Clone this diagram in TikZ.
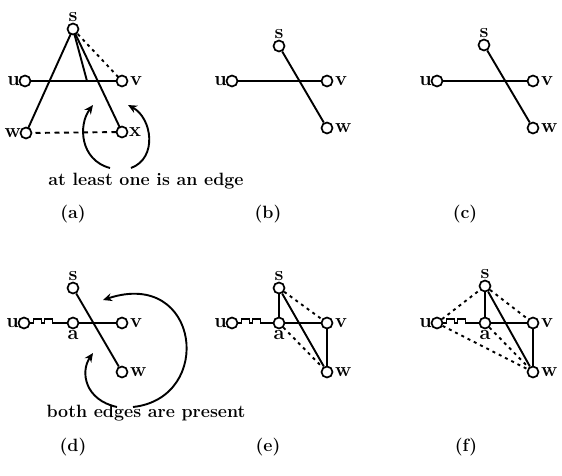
\documentclass[tikz,border=0pt]{standalone}
\usetikzlibrary{arrows.meta,positioning}
\begin{document}
\begin{tikzpicture}[x=1pt,y=-1pt,
  vtx/.style={circle,draw,line width=1.7pt,minimum size=11pt,inner sep=0pt,fill=white},
  lab/.style={font=\fontsize{20}{22}\selectfont\bfseries,inner sep=0.5pt},
  sline/.style={line width=1.9pt},
  dotline/.style={line width=1.9pt,dash pattern=on 3pt off 4pt},
  dashline/.style={line width=1.9pt,dash pattern=on 5pt off 4.5pt},
  wavy/.style={line width=1.4pt},
  curvarrow/.style={line width=1.9pt,-{Stealth[length=9pt,width=8pt]}},
  captext/.style={font=\fontsize{17.8}{21}\selectfont\bfseries,inner sep=0pt}]
\useasboundingbox (0,0) rectangle (562,475);
% ---------- (a)
\coordinate (ap) at (87,81);
\draw[sline] (25,81) coordinate (au0) -- (122,81) coordinate (av0);
\draw[sline] (73,29) coordinate (as0) -- (26,133) coordinate (aw0);
\draw[sline] (as0) -- (ap);
\draw[sline] (as0) -- (122,132) coordinate (ax0);
\draw[dotline] (as0) -- (av0);
\draw[dashline] (aw0) -- (ax0);
\node[vtx] (as) at (as0) {};
\node[vtx] (au) at (au0) {};
\node[vtx] (av) at (av0) {};
\node[vtx] (aw) at (aw0) {};
\node[vtx] (ax) at (ax0) {};
\node[lab,above=0pt of as] (asl) {s};
\node[lab,left=-2pt of au] (aul) {u};
\node[lab,right=1pt of av] (avl) {v};
\node[lab,left=-2pt of aw] (awl) {w};
\node[lab,right=0pt of ax] (axl) {x};
\coordinate (aL0) at (110,168);
\coordinate (aL1) at (93,105);
\coordinate (aR0) at (131,168);
\coordinate (aR1) at (128,105);
\draw[curvarrow] (aL0) .. controls (80,160) and (78,125) .. (aL1);
\draw[curvarrow] (aR0) .. controls (158,158) and (152,118) .. (aR1);
\node[captext] (acap) at (146,181) {at least one is an edge};
\node[captext] (alab) at (73,214) {(a)};
% ---------- (b)
\node[vtx] (bs) at (279,46) {};
\node[vtx] (bu) at (232,81) {};
\node[vtx] (bv) at (327,81) {};
\node[vtx] (bw) at (327,128) {};
\draw[sline] (bu) -- (bv);
\draw[sline] (bs) -- (bw);
\node[lab,above=0pt of bs] (bsl) {s};
\node[lab,left=-2pt of bu] (bul) {u};
\node[lab,right=1pt of bv] (bvl) {v};
\node[lab,right=1pt of bw] (bwl) {w};
\node[captext] (blab) at (268,214) {(b)};
% ---------- (c)
\node[vtx] (cs) at (484,45) {};
\node[vtx] (cu) at (437,81) {};
\node[vtx] (cv) at (533,81) {};
\node[vtx] (cw) at (533,128) {};
\draw[sline] (cu) -- (cv);
\draw[sline] (cs) -- (cw);
\node[lab,above=0pt of cs] (csl) {s};
\node[lab,left=-2pt of cu] (cul) {u};
\node[lab,right=1pt of cv] (cvl) {v};
\node[lab,right=1pt of cw] (cwl) {w};
\node[captext] (clab) at (465,214) {(c)};
% ---------- (d)
\node[vtx] (ds) at (73,288) {};
\node[vtx] (du) at (24,323) {};
\node[vtx] (da) at (73,323) {};
\node[vtx] (dv) at (122,323) {};
\node[vtx] (dw) at (122,372) {};
\draw[sline] (da) -- (dv);
\draw[sline] (ds) -- (dw);
\draw[wavy] (du.east) -- ++(3,0) -- ++(0,-4) -- ++(8,0) -- ++(0,4) -- ++(3,0) -- ++(0,-4) -- ++(8,0) -- ++(0,4) -- (da.west);
\node[lab,above=0pt of ds] (dsl) {s};
\node[lab,left=-2pt of du] (dul) {u};
\node[lab,below=0pt of da] (dal) {a};
\node[lab,right=1pt of dv] (dvl) {v};
\node[lab,right=1pt of dw] (dwl) {w};
\coordinate (dB0) at (133,407);
\coordinate (dB1) at (103,300);
\coordinate (dS0) at (117,407);
\coordinate (dS1) at (93,353);
\draw[curvarrow] (dB0) .. controls (215,398) and (200,268) .. (dB1);
\draw[curvarrow] (dS0) .. controls (85,400) and (80,372) .. (dS1);
\node[captext] (dcap) at (146,413) {both edges are present};
\node[captext] (dlab) at (73,447) {(d)};
% ---------- (e)
\node[vtx] (es) at (279,288) {};
\node[vtx] (eu) at (232,323) {};
\node[vtx] (ea) at (279,323) {};
\node[vtx] (ev) at (327,323) {};
\node[vtx] (ew) at (327,372) {};
\draw[sline] (es) -- (ea);
\draw[sline] (es) -- (ew);
\draw[sline] (ea) -- (ev);
\draw[sline] (ev) -- (ew);
\draw[dotline] (es) -- (ev);
\draw[dotline] (ea) -- (ew);
\draw[wavy] (eu.east) -- ++(3,0) -- ++(0,-4) -- ++(8,0) -- ++(0,4) -- ++(3,0) -- ++(0,-4) -- ++(8,0) -- ++(0,4) -- (ea.west);
\node[lab,above=0pt of es] (esl) {s};
\node[lab,left=-2pt of eu] (eul) {u};
\node[lab,below=0pt of ea] (eal) {a};
\node[lab,right=1pt of ev] (evl) {v};
\node[lab,right=1pt of ew] (ewl) {w};
\node[captext] (elab) at (268,447) {(e)};
% ---------- (f)
\node[vtx] (fs) at (485,286) {};
\node[vtx] (fu) at (437,323) {};
\node[vtx] (fa) at (485,323) {};
\node[vtx] (fv) at (533,323) {};
\node[vtx] (fw) at (533,372) {};
\draw[sline] (fs) -- (fa);
\draw[sline] (fs) -- (fw);
\draw[sline] (fa) -- (fv);
\draw[sline] (fv) -- (fw);
\draw[dotline] (fu) -- (fs);
\draw[dotline] (fs) -- (fv);
\draw[dotline] (fu) -- (fw);
\draw[dotline] (fa) -- (fw);
\draw[wavy] (fu.east) -- ++(3,0) -- ++(0,-4) -- ++(8,0) -- ++(0,4) -- ++(3,0) -- ++(0,-4) -- ++(8,0) -- ++(0,4) -- (fa.west);
\node[lab,above=0pt of fs] (fsl) {s};
\node[lab,left=-2pt of fu] (ful) {u};
\node[lab,below=0pt of fa] (fal) {a};
\node[lab,right=1pt of fv] (fvl) {v};
\node[lab,right=1pt of fw] (fwl) {w};
\node[captext] (flab) at (466,447) {(f)};
\end{tikzpicture}
\end{document}
